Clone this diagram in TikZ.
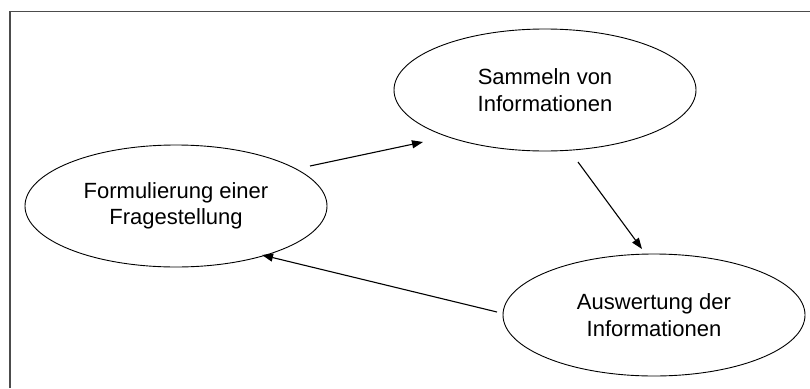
\documentclass[tikz,border=0pt]{standalone}
\usepackage{fontspec}
\setmainfont{Liberation Sans}
\usetikzlibrary{shapes.geometric,arrows.meta}

\tikzset{
  stage/.style={ellipse, draw=black, line width=0.9pt, fill=white,
    minimum width=302pt, minimum height=122pt, inner sep=0pt,
    align=center, font=\fontsize{22}{26.5}\selectfont},
  flow/.style={draw=black, line width=1.1pt,
    -{Triangle[length=11pt,width=8pt]}},
  frame/.style={draw=black!70, line width=1.6pt}
}

\begin{document}
\begin{tikzpicture}[x=1pt,y=-1pt]
  \useasboundingbox (0,0) rectangle (810,388);

  % open frame: top and left edges only
  \draw[frame] (10,388) -- (10,11.5) -- (810,11.5);

  % the three stages of the cycle
  \node[stage] (frage)   at (176,206) {Formulierung einer\\Fragestellung};
  \node[stage] (sammeln) at (545,90)  {Sammeln von\\Informationen};
  \node[stage] (auswert) at (654,315) {Auswertung der\\Informationen};

  % free-standing arrow ends between the stages
  \coordinate (a1s) at (310,166);
  \coordinate (a1e) at (423,142);
  \coordinate (a2s) at (578,162);
  \coordinate (a2e) at (642,249);
  \coordinate (a3s) at (497,312);
  \coordinate (a3e) at (262,255);

  \draw[flow] (a1s) -- (a1e);
  \draw[flow] (a2s) -- (a2e);
  \draw[flow] (a3s) -- (a3e);
\end{tikzpicture}
\end{document}
